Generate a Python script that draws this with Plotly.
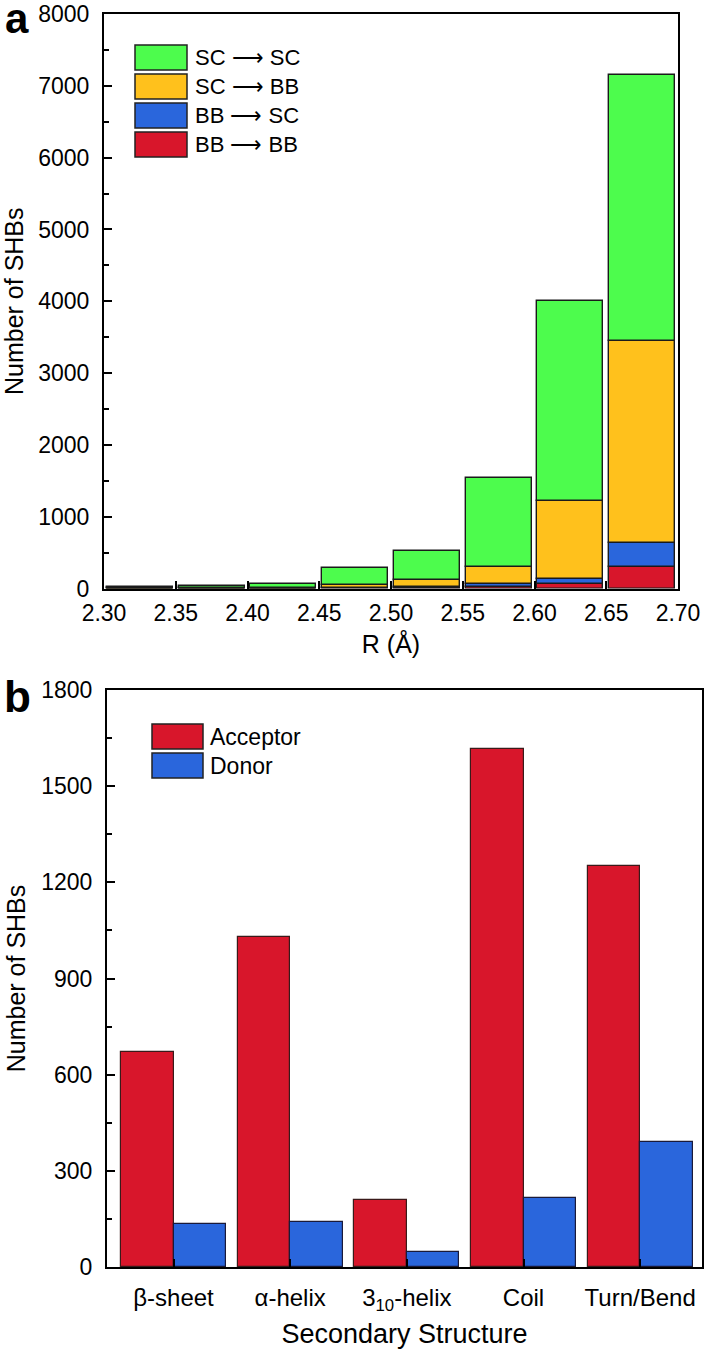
import plotly.graph_objects as go

# ---------------- data ----------------
R_centers = [2.325, 2.375, 2.425, 2.475, 2.525, 2.575, 2.625, 2.675]
bb_bb = [0, 0, 0, 3, 5, 15, 60, 300]
bb_sc = [0, 0, 0, 7, 10, 45, 75, 330]
sc_bb = [2, 3, 5, 45, 100, 240, 1090, 2820]
sc_sc = [18, 37, 60, 230, 405, 1240, 2785, 3700]
r_ticks = [2.30, 2.35, 2.40, 2.45, 2.50, 2.55, 2.60, 2.65, 2.70]

structures = ["β-sheet", "α-helix", "3<sub>10</sub>-helix", "Coil", "Turn/Bend"]
acceptor = [670, 1030, 210, 1615, 1250]
donor = [134, 140, 48, 215, 390]

# ---------------- style ----------------
W, H = 707, 1353
GREEN = "#4dfc4d"
ORANGE = "#ffc11c"
BLUE = "#2a66dc"
RED = "#d8162b"
FONT = "Liberation Sans, Arial, sans-serif"

def px(x):
    """page x pixel -> paper fraction"""
    return x / W

def py(y):
    """page y pixel -> paper fraction"""
    return 1 - y / H

fig = go.Figure()

# ---- panel a: stacked bars built from cumulative bases ----
stack = [("BB ⟶ BB", bb_bb, RED), ("BB ⟶ SC", bb_sc, BLUE),
         ("SC ⟶ BB", sc_bb, ORANGE), ("SC ⟶ SC", sc_sc, GREEN)]
base = [0] * len(R_centers)
for name, vals, col in stack:
    fig.add_trace(go.Bar(
        x=R_centers, y=vals, base=list(base), width=0.046,
        marker=dict(color=col, line=dict(color="#1a1a1a", width=1.4)),
        name=name, showlegend=False, xaxis="x", yaxis="y"))
    base = [b + v for b, v in zip(base, vals)]

# ---- panel b: grouped bars ----
fig.add_trace(go.Bar(
    x=list(range(len(structures))), y=acceptor, width=0.45, offset=-0.45,
    marker=dict(color=RED, line=dict(color="#3a1a1a", width=1.2)),
    name="Acceptor", showlegend=False, xaxis="x2", yaxis="y2"))
fig.add_trace(go.Bar(
    x=list(range(len(structures))), y=donor, width=0.45, offset=0.0,
    marker=dict(color=BLUE, line=dict(color="#1a1a3a", width=1.2)),
    name="Donor", showlegend=False, xaxis="x2", yaxis="y2"))

axis_common = dict(showline=True, linecolor="black", linewidth=2, mirror=True,
                   ticks="inside", tickcolor="black", tickwidth=2, ticklen=8,
                   showgrid=False, zeroline=False, automargin=False,
                   ticklabeloverflow="allow")

TITLE_FONT = dict(family=FONT, size=25, color="black")

fig.update_layout(
    width=W, height=H, barmode="overlay", bargap=0,
    margin=dict(l=0, r=0, t=0, b=0, autoexpand=False),
    paper_bgcolor="white", plot_bgcolor="white",
    font=dict(family=FONT, color="black"),
    xaxis=dict(domain=[px(104), px(678)], range=[2.30, 2.70],
               tickvals=r_ticks, ticktext=[f"{v:.2f}" for v in r_ticks],
               anchor="y", ticklabelstandoff=3,
               tickfont=dict(family=FONT, size=23, color="black"),
               title=dict(text="R (Å)", font=TITLE_FONT, standoff=10),
               **axis_common),
    yaxis=dict(domain=[py(588.5), py(14)], range=[0, 8000],
               tickvals=[0, 1000, 2000, 3000, 4000, 5000, 6000, 7000, 8000],
               anchor="x", ticklabelstandoff=8,
               tickfont=dict(family=FONT, size=23, color="black"),
               minor=dict(dtick=500, ticks="inside", ticklen=5, tickwidth=2, tickcolor="black"),
               title=dict(text="Number of SHBs", font=TITLE_FONT, standoff=8),
               **axis_common),
    xaxis2=dict(domain=[px(107), px(702)], range=[-0.57, 4.53],
                tickvals=list(range(len(structures))), ticktext=structures,
                anchor="y2", ticklabelstandoff=8,
                tickfont=dict(family=FONT, size=24, color="black"),
                title=dict(text="Secondary Structure", font=dict(family=FONT, size=27, color="black"), standoff=10),
                **axis_common),
    yaxis2=dict(domain=[py(1267), py(690)], range=[0, 1800],
                tickvals=[0, 300, 600, 900, 1200, 1500, 1800],
                anchor="x2", ticklabelstandoff=8,
                tickfont=dict(family=FONT, size=23, color="black"),
                minor=dict(dtick=150, ticks="inside", ticklen=5, tickwidth=2, tickcolor="black"),
                title=dict(text="Number of SHBs", font=TITLE_FONT, standoff=8),
                **axis_common),
)

# ---- custom legends (large swatches, as in the original) ----
def legend(entries, x0, x1, tops, h, tx, size):
    for (label, col), t in zip(entries, tops):
        fig.add_shape(type="rect", xref="paper", yref="paper",
                      x0=px(x0), x1=px(x1), y0=py(t + h), y1=py(t),
                      fillcolor=col, line=dict(color="#222", width=1.5))
        fig.add_annotation(xref="paper", yref="paper", x=px(tx), y=py(t + h / 2),
                           text=label, showarrow=False, xanchor="left", yanchor="middle",
                           font=dict(family=FONT, size=size, color="black"))

legend([("SC ⟶ SC", GREEN), ("SC ⟶ BB", ORANGE), ("BB ⟶ SC", BLUE), ("BB ⟶ BB", RED)],
       135, 187, [45, 74, 103, 132], 25, 193, 22)
legend([("Acceptor", RED), ("Donor", BLUE)], 152, 203, [724, 753], 25, 208, 23)

# ---- panel letters ----
fig.add_annotation(xref="paper", yref="paper", x=px(3), y=py(19), text="<b>a</b>",
                   showarrow=False, xanchor="left", yanchor="middle",
                   font=dict(family=FONT, size=42, color="black"))
fig.add_annotation(xref="paper", yref="paper", x=px(2), y=py(696), text="<b>b</b>",
                   showarrow=False, xanchor="left", yanchor="middle",
                   font=dict(family=FONT, size=44, color="black"))

fig.write_html("out.html", config={"displayModeBar": False},
               post_script="document.body.style.margin='0';document.body.style.padding='0';")
